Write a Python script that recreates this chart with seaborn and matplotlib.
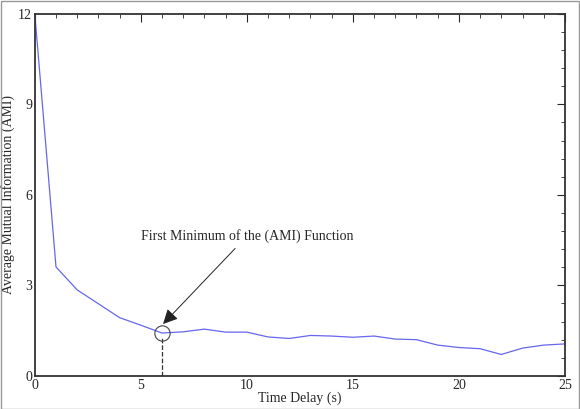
import matplotlib
matplotlib.use("Agg")
import matplotlib.pyplot as plt
import seaborn as sns
import pandas as pd
from matplotlib.ticker import MultipleLocator

delay = list(range(26))
ami = [12.0, 3.61, 2.85, 2.39, 1.93, 1.68, 1.42, 1.46, 1.55, 1.45, 1.45, 1.29, 1.24,
       1.34, 1.32, 1.28, 1.32, 1.22, 1.20, 1.02, 0.94, 0.90, 0.71, 0.92, 1.02, 1.06]
first_min = 6

sns.set_style("white")
plt.rcParams["font.family"] = ["Liberation Serif", "DejaVu Serif"]

df = pd.DataFrame({"delay": delay, "ami": ami})
fig = plt.figure(figsize=(5.8, 4.09), dpi=100)
fig.patches.append(plt.Rectangle((0.001, 0.001), 0.997, 0.997, transform=fig.transFigure,
                                 fill=False, edgecolor="#999999", lw=1))
ax = fig.add_axes([0.060, 0.081, 0.914, 0.885])
sns.lineplot(data=df, x="delay", y="ami", color="#6666ee", lw=0.9, ax=ax)

ax.set_xlim(0, 25)
ax.set_ylim(0, 12)
ax.xaxis.set_major_locator(MultipleLocator(5))
ax.xaxis.set_minor_locator(MultipleLocator(1))
ax.yaxis.set_major_locator(MultipleLocator(3))
ax.yaxis.set_minor_locator(MultipleLocator(0.6))
ax.tick_params(which="both", direction="in", top=True, right=True, labelsize=10, pad=2)
ax.tick_params(which="major", length=6)
ax.tick_params(which="minor", length=3)
for s in ax.spines.values():
    s.set_linewidth(1.3)
    s.set_color("#333333")
ax.set_xlabel("Time Delay (s)", fontsize=10, labelpad=0)
ax.set_ylabel("Average Mutual Information (AMI)", fontsize=10, labelpad=2)

ymin = ami[first_min]
ax.plot([first_min], [ymin], marker="o", ms=11, mfc="none", mec="#444444", mew=0.8)
ax.plot([first_min, first_min], [0, ymin - 0.15], ls="--", color="#333333", lw=0.9)
ax.annotate("First Minimum of the (AMI) Function", xy=(first_min + 0.05, ymin + 0.3),
            xytext=(10, 4.4), ha="center", va="bottom", fontsize=10,
            arrowprops=dict(arrowstyle="-|>", color="#222222", lw=0.7,
                            mutation_scale=22, shrinkA=2, shrinkB=0))

fig.savefig("out.png", dpi=100)
